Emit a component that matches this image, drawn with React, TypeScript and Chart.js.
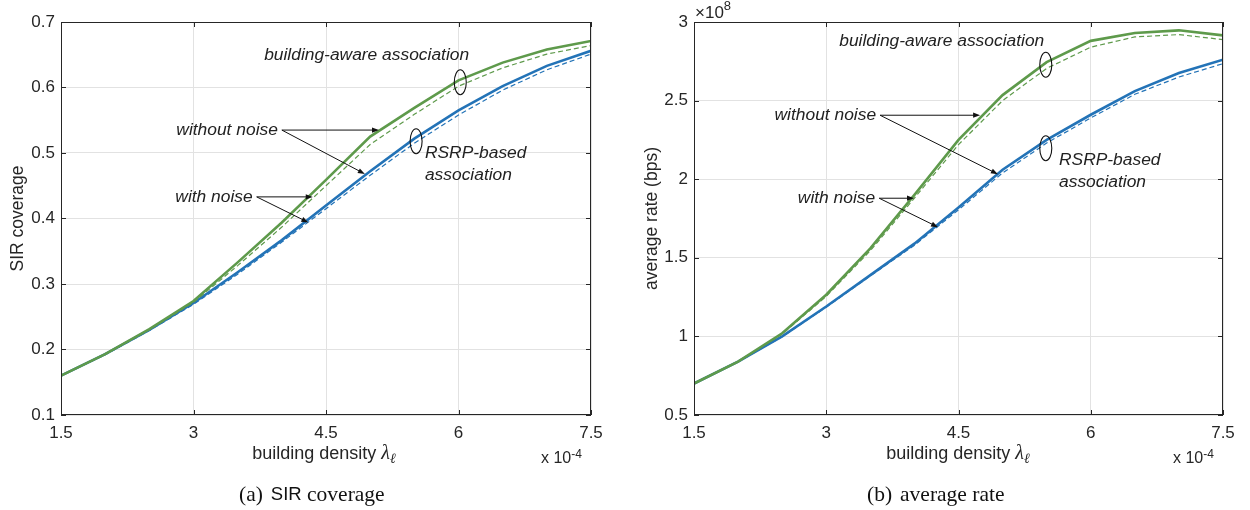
import { useEffect, useRef } from "react";
import { Chart, registerables } from "chart.js";

Chart.register(...registerables);

// Building density (x 10^-4)
const density = [1.5, 2, 2.5, 3, 3.5, 4, 4.5, 5, 5.5, 6, 6.5, 7, 7.5];
const densityTicks = [1.5, 3, 4.5, 6, 7.5];

// SIR coverage
const sirAware = [0.16, 0.193, 0.231, 0.274, 0.333, 0.394, 0.459, 0.525, 0.569, 0.611, 0.638, 0.658, 0.671];
const sirAwareNoisy = [0.16, 0.193, 0.23, 0.272, 0.328, 0.387, 0.45, 0.513, 0.559, 0.602, 0.63, 0.651, 0.664];
const sirRsrp = [0.16, 0.193, 0.23, 0.271, 0.318, 0.367, 0.42, 0.472, 0.522, 0.565, 0.602, 0.633, 0.656];
const sirRsrpNoisy = [0.16, 0.192, 0.229, 0.269, 0.315, 0.364, 0.415, 0.466, 0.515, 0.558, 0.596, 0.627, 0.651];
const sirTicks = [0.1, 0.2, 0.3, 0.4, 0.5, 0.6, 0.7];

// Average rate (x 10^8 bps)
const rateAware = [0.7, 0.84, 1.02, 1.265, 1.56, 1.9, 2.25, 2.535, 2.745, 2.88, 2.93, 2.947, 2.915];
const rateAwareNoisy = [0.7, 0.84, 1.015, 1.255, 1.545, 1.88, 2.22, 2.5, 2.705, 2.84, 2.905, 2.92, 2.888];
const rateRsrp = [0.7, 0.84, 1.0, 1.19, 1.39, 1.59, 1.82, 2.06, 2.25, 2.41, 2.56, 2.675, 2.76];
const rateRsrpNoisy = [0.7, 0.839, 0.998, 1.186, 1.385, 1.58, 1.805, 2.04, 2.23, 2.39, 2.54, 2.65, 2.735];
const rateTicks = [0.5, 1, 1.5, 2, 2.5, 3];

const GREEN = "#5e9a4b";
const BLUE = "#2373b7";
const INK = "#262626";
const SANS = '"Liberation Sans", Arial, Helvetica, sans-serif';
const SERIF = '"Liberation Serif", "Times New Roman", serif';

const W = 630;
const H = 510;
const PLOT_TOP = 22;
const PLOT_BOTTOM = 415;

type Pt = { x: number; y: number };
type Run = { text: string; font: string; dy?: number };

type Notes = {
  aware: Pt;
  awareRing: Pt;
  without: Pt;
  withoutTips: Pt[];
  withN: Pt;
  withTips: Pt[];
  rsrpRing: Pt;
  rsrp: Pt;
};

type Panel = {
  left: number;
  plotLeft: number;
  plotRight: number;
  yMin: number;
  yMax: number;
  yTicks: number[];
  yLabel: string;
  yLabelX: number;
  series: number[][];
  caption: Run[];
  captionX: number;
  xLabelCenter: number;
  exponentX: number;
  showRateExponent: boolean;
  notes: Notes;
};

const fmt = (v: number) => String(Number(v.toFixed(3)));

function drawRuns(ctx: CanvasRenderingContext2D, runs: Run[], x: number, y: number, align: "left" | "center" | "right") {
  let total = 0;
  for (const r of runs) {
    ctx.font = r.font;
    total += ctx.measureText(r.text).width;
  }
  let cx = align === "left" ? x : align === "center" ? x - total / 2 : x - total;
  ctx.textAlign = "left";
  ctx.textBaseline = "middle";
  for (const r of runs) {
    ctx.font = r.font;
    ctx.fillText(r.text, cx, y + (r.dy || 0));
    cx += ctx.measureText(r.text).width;
  }
}

function arrow(ctx: CanvasRenderingContext2D, x0: number, y0: number, x1: number, y1: number) {
  const ang = Math.atan2(y1 - y0, x1 - x0);
  const len = 7;
  const half = 2.6;
  ctx.beginPath();
  ctx.moveTo(x0, y0);
  ctx.lineTo(x1 - Math.cos(ang) * len * 0.6, y1 - Math.sin(ang) * len * 0.6);
  ctx.stroke();
  ctx.beginPath();
  ctx.moveTo(x1, y1);
  ctx.lineTo(x1 - Math.cos(ang) * len + Math.sin(ang) * half, y1 - Math.sin(ang) * len - Math.cos(ang) * half);
  ctx.lineTo(x1 - Math.cos(ang) * len - Math.sin(ang) * half, y1 - Math.sin(ang) * len + Math.cos(ang) * half);
  ctx.closePath();
  ctx.fill();
}

function makeDecor(p: Panel) {
  return {
    id: "panelDecor",
    afterDraw(chart: any) {
      const ctx: CanvasRenderingContext2D = chart.ctx;
      const { left, right, top, bottom } = chart.chartArea;
      const xs = chart.scales.x;
      const ys = chart.scales.y;
      const px = (v: number) => xs.getPixelForValue(v);
      const py = (v: number) => ys.getPixelForValue(v);
      ctx.save();

      // axes box with inward ticks
      ctx.strokeStyle = INK;
      ctx.lineWidth = 1;
      ctx.strokeRect(left + 0.5, top + 0.5, right - left - 1, bottom - top - 1);
      ctx.beginPath();
      for (const t of densityTicks) {
        const x = Math.round(px(t)) + 0.5;
        ctx.moveTo(x, bottom);
        ctx.lineTo(x, bottom - 5);
        ctx.moveTo(x, top);
        ctx.lineTo(x, top + 5);
      }
      for (const t of p.yTicks) {
        const y = Math.round(py(t)) + 0.5;
        ctx.moveTo(left, y);
        ctx.lineTo(left + 5, y);
        ctx.moveTo(right, y);
        ctx.lineTo(right - 5, y);
      }
      ctx.stroke();

      // axis titles
      ctx.fillStyle = INK;
      ctx.save();
      ctx.translate(p.yLabelX, (top + bottom) / 2);
      ctx.rotate(-Math.PI / 2);
      ctx.font = `17.5px ${SANS}`;
      ctx.textAlign = "center";
      ctx.textBaseline = "middle";
      ctx.fillText(p.yLabel, 0, 0);
      ctx.restore();

      drawRuns(
        ctx,
        [
          { text: "building density ", font: `18px ${SANS}` },
          { text: "λ", font: `italic 20px ${SERIF}` },
          { text: "ℓ", font: `italic 14px ${SERIF}`, dy: 5 },
        ],
        p.xLabelCenter,
        454,
        "center"
      );
      drawRuns(
        ctx,
        [
          { text: "x 10", font: `16px ${SANS}` },
          { text: "-4", font: `12px ${SANS}`, dy: -4 },
        ],
        p.exponentX,
        459,
        "left"
      );
      if (p.showRateExponent) {
        drawRuns(
          ctx,
          [
            { text: "×10", font: `17px ${SANS}` },
            { text: "8", font: `13px ${SANS}`, dy: -7 },
          ],
          left + 1,
          13,
          "left"
        );
      }

      // caption
      ctx.fillStyle = "#111";
      drawRuns(ctx, p.caption, p.captionX, 495, "left");

      // annotations
      const n = p.notes;
      ctx.fillStyle = "#222";
      ctx.strokeStyle = "#111";
      ctx.font = `italic 17.4px ${SANS}`;
      ctx.textBaseline = "middle";
      ctx.textAlign = "center";
      ctx.fillText("building-aware association", px(n.aware.x), py(n.aware.y));
      ctx.textAlign = "right";
      ctx.fillText("without noise", px(n.without.x), py(n.without.y));
      ctx.fillText("with noise", px(n.withN.x), py(n.withN.y));
      ctx.textAlign = "left";
      ctx.fillText("RSRP-based", px(n.rsrp.x), py(n.rsrp.y));
      ctx.fillText("association", px(n.rsrp.x), py(n.rsrp.y) + 22);

      ctx.lineWidth = 1.1;
      for (const ring of [n.awareRing, n.rsrpRing]) {
        ctx.beginPath();
        ctx.ellipse(px(ring.x), py(ring.y), 6, 12.5, 0, 0, Math.PI * 2);
        ctx.stroke();
      }
      ctx.lineWidth = 1;
      ctx.fillStyle = "#111";
      const wx = px(n.without.x) + 4;
      const wy = py(n.without.y);
      for (const t of n.withoutTips) arrow(ctx, wx, wy, px(t.x), py(t.y));
      const nx = px(n.withN.x) + 4;
      const ny = py(n.withN.y);
      for (const t of n.withTips) arrow(ctx, nx, ny, px(t.x), py(t.y));

      ctx.restore();
    },
  };
}

const panels: Panel[] = [
  {
    left: 0,
    plotLeft: 61,
    plotRight: 591,
    yMin: 0.1,
    yMax: 0.7,
    yTicks: sirTicks,
    yLabel: "SIR coverage",
    yLabelX: 18,
    series: [sirAware, sirAwareNoisy, sirRsrp, sirRsrpNoisy],
    caption: [
      { text: "(a)", font: `21.5px ${SERIF}` },
      { text: "  ", font: `16px ${SERIF}` },
      { text: "SIR", font: `18.5px ${SANS}` },
      { text: " coverage", font: `21.5px ${SERIF}` },
    ],
    captionX: 239,
    xLabelCenter: 324,
    exponentX: 541,
    showRateExponent: false,
    notes: {
      aware: { x: 4.96, y: 0.649 },
      awareRing: { x: 6.02, y: 0.608 },
      without: { x: 3.955, y: 0.535 },
      withoutTips: [
        { x: 5.1, y: 0.535 },
        { x: 4.94, y: 0.468 },
      ],
      withN: { x: 3.67, y: 0.433 },
      withTips: [
        { x: 4.35, y: 0.433 },
        { x: 4.3, y: 0.394 },
      ],
      rsrpRing: { x: 5.52, y: 0.518 },
      rsrp: { x: 5.62, y: 0.5 },
    },
  },
  {
    left: 630,
    plotLeft: 64,
    plotRight: 593,
    yMin: 0.5,
    yMax: 3,
    yTicks: rateTicks,
    yLabel: "average rate (bps)",
    yLabelX: 22,
    series: [rateAware, rateAwareNoisy, rateRsrp, rateRsrpNoisy],
    caption: [
      { text: "(b)", font: `21.5px ${SERIF}` },
      { text: "  ", font: `16px ${SERIF}` },
      { text: "average rate", font: `21.5px ${SERIF}` },
    ],
    captionX: 237,
    xLabelCenter: 328,
    exponentX: 543,
    showRateExponent: true,
    notes: {
      aware: { x: 4.31, y: 2.877 },
      awareRing: { x: 5.49, y: 2.728 },
      without: { x: 3.565, y: 2.407 },
      withoutTips: [
        { x: 4.745, y: 2.407 },
        { x: 4.947, y: 2.032 },
      ],
      withN: { x: 3.555, y: 1.879 },
      withTips: [
        { x: 3.995, y: 1.879 },
        { x: 4.268, y: 1.695 },
      ],
      rsrpRing: { x: 5.49, y: 2.197 },
      rsrp: { x: 5.64, y: 2.121 },
    },
  },
];

function PanelChart({ p }: { p: Panel }) {
  const ref = useRef<HTMLCanvasElement>(null);
  useEffect(() => {
    if (!ref.current) return;
    const styles = [
      { color: GREEN, width: 2.6, dash: [] as number[] },
      { color: GREEN, width: 1.2, dash: [5, 3] },
      { color: BLUE, width: 2.6, dash: [] as number[] },
      { color: BLUE, width: 1.2, dash: [5, 3] },
    ];
    const datasets = p.series.map((vals, i) => ({
      data: density.map((x, j) => ({ x, y: vals[j] })),
      borderColor: styles[i].color,
      borderWidth: styles[i].width,
      borderDash: styles[i].dash,
      pointRadius: 0,
      tension: 0,
      fill: false,
    }));
    const tickFont = { family: SANS, size: 17 };
    const chart = new Chart(ref.current, {
      type: "line",
      data: { datasets },
      options: {
        responsive: false,
        animation: false,
        layout: { padding: { left: 0, top: PLOT_TOP, right: W - p.plotRight, bottom: 0 } },
        plugins: { legend: { display: false }, tooltip: { enabled: false } },
        scales: {
          x: {
            type: "linear",
            min: 1.5,
            max: 7.5,
            afterBuildTicks: (s: any) => {
              s.ticks = densityTicks.map((v) => ({ value: v }));
            },
            afterFit: (s: any) => {
              s.height = H - PLOT_BOTTOM;
            },
            grid: { color: "#e2e2e2", drawTicks: false, lineWidth: 1 },
            border: { display: false },
            ticks: { padding: 8, font: tickFont, color: INK, callback: (v: any) => fmt(Number(v)), maxRotation: 0 },
          },
          y: {
            type: "linear",
            min: p.yMin,
            max: p.yMax,
            afterBuildTicks: (s: any) => {
              s.ticks = p.yTicks.map((v) => ({ value: v }));
            },
            afterFit: (s: any) => {
              s.width = p.plotLeft;
            },
            grid: { color: "#e2e2e2", drawTicks: false, lineWidth: 1 },
            border: { display: false },
            ticks: { padding: 6, font: tickFont, color: INK, callback: (v: any) => fmt(Number(v)) },
          },
        },
      } as any,
      plugins: [makeDecor(p)],
    });
    return () => chart.destroy();
  }, [p]);
  return (
    <canvas
      ref={ref}
      width={W}
      height={H}
      style={{ position: "absolute", left: p.left, top: 0, width: W, height: H }}
    />
  );
}

export default function App() {
  return (
    <div style={{ position: "absolute", left: 0, top: 0, width: 1250, height: 510, background: "#fff" }}>
      {panels.map((p, i) => (
        <PanelChart key={i} p={p} />
      ))}
    </div>
  );
}
